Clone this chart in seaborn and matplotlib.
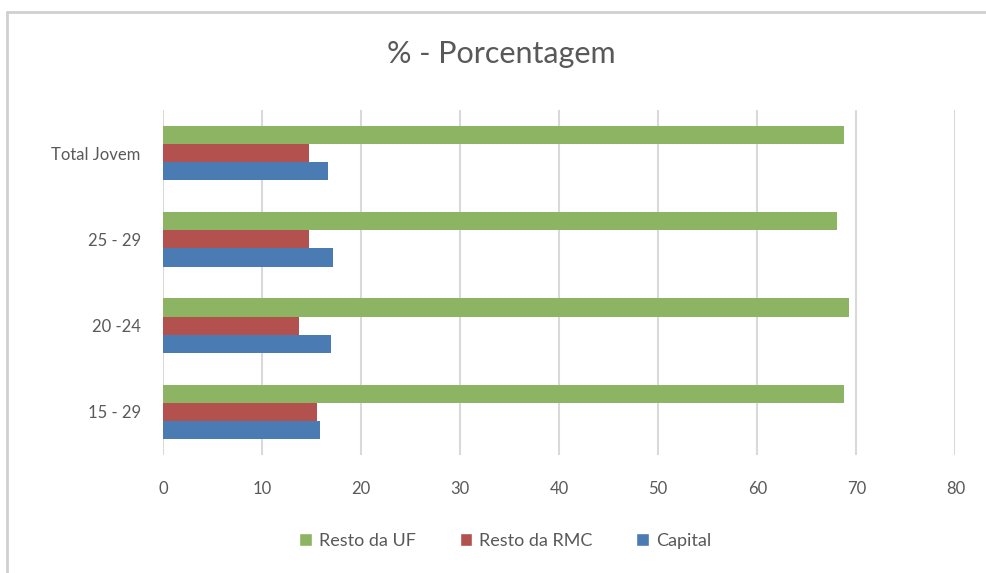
import pandas as pd
import matplotlib.pyplot as plt
import seaborn as sns
from matplotlib.lines import Line2D
from matplotlib.patches import Patch

# dados
faixas = ['Total Jovem', '25 - 29', '20 -24', '15 - 29']
series = ['Resto da UF', 'Resto da RMC', 'Capital']
resto_uf = [68.8, 68.0, 69.3, 68.8]
resto_rmc = [14.8, 14.8, 13.7, 15.6]
capital = [16.7, 17.2, 17.0, 15.9]
cores = ['#8db462', '#b3514f', '#4a7bb3']
xticks = [0, 10, 20, 30, 40, 50, 60, 70, 80]

df = pd.DataFrame({
    'faixa': faixas * 3,
    'serie': [s for s in series for _ in faixas],
    'valor': resto_uf + resto_rmc + capital,
})

sns.set_style('white')
plt.rcParams['font.family'] = ['Lato', 'DejaVu Sans']
cinza = '#595959'

fig = plt.figure(figsize=(9.87, 5.73), dpi=100)
ax = fig.add_axes([0.165, 0.206, 0.803, 0.602])

sns.barplot(data=df, y='faixa', x='valor', hue='serie', order=faixas,
            hue_order=series, palette=cores, saturation=1, orient='h',
            width=0.63, edgecolor='none', legend=False, ax=ax)

ax.set_xlim(0, 80)
ax.set_xticks(xticks)
ax.grid(axis='x', color='#d9d9d9', linewidth=1.5)
ax.grid(axis='y', visible=False)
ax.set_axisbelow(True)
for s in ax.spines.values():
    s.set_visible(False)
ax.tick_params(axis='x', length=0, pad=19, labelsize=12, labelcolor=cinza)
ax.tick_params(axis='y', length=0, pad=16, labelsize=12, labelcolor=cinza)
ax.set_xlabel('')
ax.set_ylabel('')

fig.text(0.508, 0.905, '% - Porcentagem', ha='center', va='center',
         fontsize=22, color=cinza)

handles = [Patch(facecolor=c, label=s) for c, s in zip(cores, series)]
fig.legend(handles=handles, loc='center', bbox_to_anchor=(0.512, 0.056),
           ncol=3, frameon=False, fontsize=13, labelcolor=cinza,
           handlelength=0.7, handleheight=0.7, handletextpad=0.4,
           columnspacing=2.4)

# moldura do gráfico
fig.add_artist(Line2D([7 / 987, 7 / 987], [0, 1 - 12 / 573],
                      transform=fig.transFigure, color='#d0d0d0', lw=2))
fig.add_artist(Line2D([7 / 987, 1], [1 - 12 / 573, 1 - 12 / 573],
                      transform=fig.transFigure, color='#d0d0d0', lw=2))

fig.savefig('out.png', dpi=100)
